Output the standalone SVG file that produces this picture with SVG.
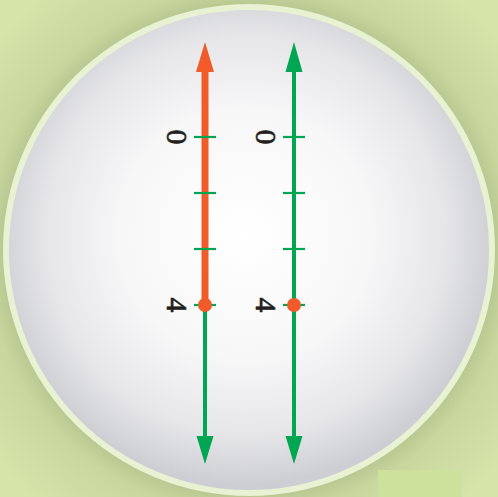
<svg xmlns="http://www.w3.org/2000/svg" width="498" height="497" viewBox="0 0 498 497">
<defs>
<radialGradient id="bgShade" cx="249" cy="250" r="330" gradientUnits="userSpaceOnUse">
<stop offset="0.70" stop-color="#aebd86"/>
<stop offset="0.80" stop-color="#c8d79e"/>
<stop offset="1" stop-color="#d6e4aa"/>
</radialGradient>
<radialGradient id="disc" cx="245" cy="235" r="250" gradientUnits="userSpaceOnUse">
<stop offset="0" stop-color="#ffffff"/>
<stop offset="0.5" stop-color="#f7f7f8"/>
<stop offset="0.8" stop-color="#e6e6e9"/>
<stop offset="1" stop-color="#cdced3"/>
</radialGradient>
<style>
.tick{stroke:#00a651;stroke-width:2.2}
.lbl{font-family:"Liberation Serif",serif;font-size:30px;fill:#231f20;stroke:#231f20;stroke-width:0.6;text-anchor:middle}
</style>
</defs>
<rect width="498" height="497" fill="#d6e4aa"/>
<rect width="498" height="497" fill="url(#bgShade)"/>
<rect x="378" y="470" width="84" height="27" fill="#cde09c"/>
<circle cx="249" cy="250" r="246" fill="#e8f1d2"/>
<circle cx="249" cy="250" r="240" fill="url(#disc)"/>
<g id="connectors">
<line x1="205" y1="305" x2="205" y2="440" stroke="#00a651" stroke-width="4"/>
<polygon points="196.5,436 213.5,436 205,464" fill="#00a651"/>
<line x1="205" y1="70" x2="205" y2="305" stroke="#f15a29" stroke-width="7"/>
<polygon points="196,72 214,72 205,42" fill="#f15a29"/>
<line x1="294" y1="70" x2="294" y2="440" stroke="#00a651" stroke-width="4"/>
<polygon points="285.5,72 302.5,72 294,42" fill="#00a651"/>
<polygon points="285.5,436 302.5,436 294,464" fill="#00a651"/>
</g>
<g id="ticks-left">
<line class="tick" x1="194" y1="137" x2="216" y2="137"/>
<line class="tick" x1="194" y1="193" x2="216" y2="193"/>
<line class="tick" x1="194" y1="249" x2="216" y2="249"/>
<line class="tick" x1="194" y1="305" x2="216" y2="305"/>
</g>
<g id="ticks-right">
<line class="tick" x1="283" y1="137" x2="305" y2="137"/>
<line class="tick" x1="283" y1="193" x2="305" y2="193"/>
<line class="tick" x1="283" y1="249" x2="305" y2="249"/>
<line class="tick" x1="283" y1="305" x2="305" y2="305"/>
</g>
<g id="point-left"><circle cx="205" cy="305" r="7" fill="#f15a29"/></g>
<g id="point-right"><circle cx="294" cy="305" r="7" fill="#f15a29"/></g>
<g id="labels">
<text class="lbl" transform="translate(167,137) rotate(90)">0</text>
<text class="lbl" transform="translate(167,305) rotate(90)">4</text>
<text class="lbl" transform="translate(256,137) rotate(90)">0</text>
<text class="lbl" transform="translate(256,305) rotate(90)">4</text>
</g>
</svg>
